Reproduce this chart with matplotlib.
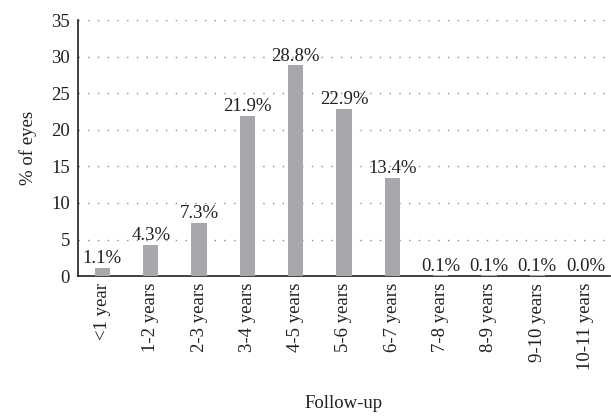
import matplotlib
matplotlib.use("Agg")
import matplotlib.pyplot as plt

# 추적 기간별 눈 비율
categories = ["<1 year", "1-2 years", "2-3 years", "3-4 years", "4-5 years",
              "5-6 years", "6-7 years", "7-8 years", "8-9 years", "9-10 years",
              "10-11 years"]
values = [1.1, 4.3, 7.3, 21.9, 28.8, 22.9, 13.4, 0.1, 0.1, 0.1, 0.04]
yticks = [0, 5, 10, 15, 20, 25, 30, 35]

plt.rcParams['font.family'] = ['Liberation Serif', 'DejaVu Serif']
fs = 13.5

fig = plt.figure(figsize=(6.11, 4.19), dpi=100)
ax = fig.add_axes([0.128, 0.341, 0.870, 0.611])

x = list(range(len(categories)))
bars = ax.bar(x, values, width=0.32, color="#a7a8ab", zorder=3)

for xi, v in zip(x, values):
    ax.annotate(f"{v:.1f}%", (xi, v), xytext=(0, 0.5), textcoords="offset points",
                ha="center", va="bottom", fontsize=fs, color="#231f20", zorder=4)

ax.set_xlim(-0.5, len(categories) - 0.5)
ax.set_ylim(0, 35)
ax.set_yticks(yticks)
ax.set_xticks(x)
ax.set_xticklabels(categories, rotation=90, fontsize=fs, color="#231f20")
ax.tick_params(axis="y", labelsize=fs, colors="#231f20", length=0, pad=6)
ax.tick_params(axis="x", length=0, pad=5)

ax.grid(axis="y", color="#8a8a8a", linestyle=(0, (1, 6)), linewidth=1, zorder=0)
for s in ["top", "right"]:
    ax.spines[s].set_visible(False)
ax.spines["left"].set_color("#231f20")
ax.spines["bottom"].set_color("#231f20")
ax.spines["left"].set_linewidth(1.2)
ax.spines["bottom"].set_linewidth(1.2)

ax.set_ylabel("% of eyes", fontsize=fs, color="#231f20", labelpad=10)
ax.set_xlabel("Follow-up", fontsize=fs, color="#231f20", labelpad=18)

fig.savefig("out.png", dpi=100)
